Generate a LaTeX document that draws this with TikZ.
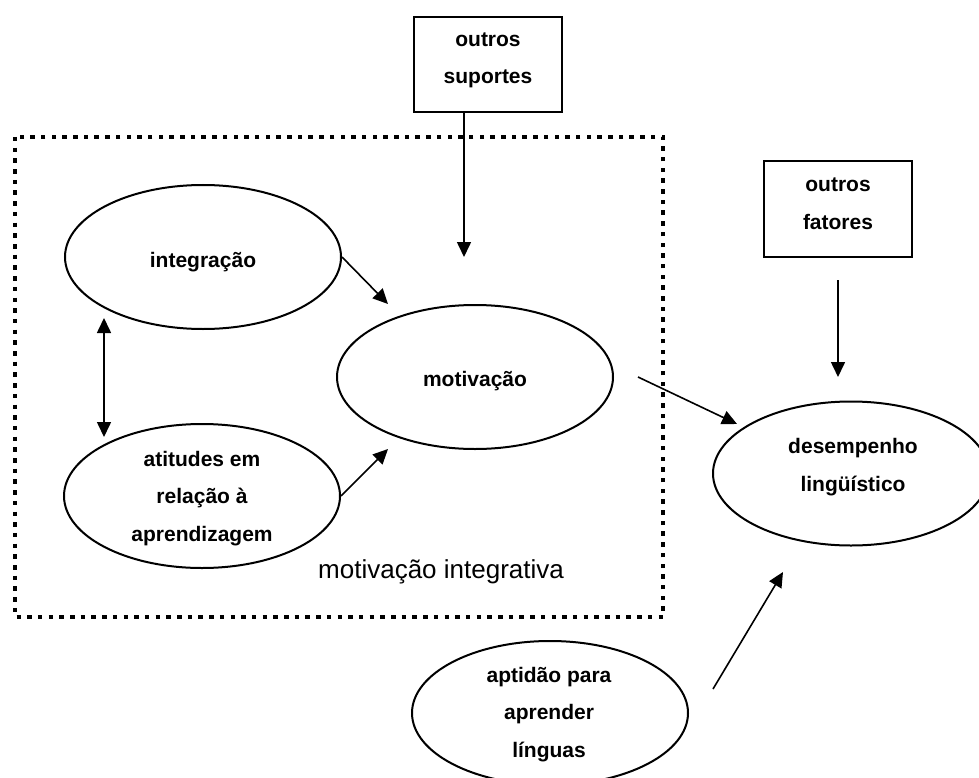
\documentclass[tikz,border=0pt]{standalone}
\usepackage{fontspec}
\setmainfont{Liberation Sans}
\usetikzlibrary{shapes.geometric,arrows.meta}
\tikzset{
  ell/.style={ellipse, draw, line width=2pt, inner sep=0pt, minimum width=276pt, minimum height=144pt},
  boxnode/.style={rectangle, draw, line width=2pt, inner sep=0pt, minimum width=148pt, minimum height=95pt},
  lbl/.style={inner sep=0pt, font=\fontsize{21}{37.5}\selectfont\bfseries, align=center},
  arr/.style={line width=1.6pt, -{Triangle[length=15pt,width=14pt]}},
  darr/.style={line width=1.6pt, {Triangle[length=15pt,width=14pt]}-{Triangle[length=15pt,width=14pt]}},
  dotbox/.style={line width=4.5pt, dash pattern=on 4.5pt off 6.2pt}
}
\begin{document}
\begin{tikzpicture}[x=1pt,y=-1pt]
\useasboundingbox (0,0) rectangle (979,778);
% dotted frame
\draw[dotbox] (15,137) rectangle (663,617);
% boxes
\node[boxnode] (sup) at (488,64.5) {};
\node[lbl, anchor=base] (tsup) at (488,84) {outros\\suportes};
\node[boxnode] (fat) at (838,209) {};
\node[lbl, anchor=base] (tfat) at (838,229) {outros\\fatores};
% ellipses
\node[ell] (int) at (203,257) {};
\node[lbl, anchor=base] (tint) at (203,267) {integração};
\node[ell] (att) at (202,496) {};
\begin{scope}
\clip (60,420) rectangle (345,545);
\node[lbl, anchor=base] (tatt) at (202,541) {atitudes em\\relação à\\aprendizagem};
\end{scope}
\node[ell] (mot) at (475,377) {};
\node[lbl, anchor=base] (tmot) at (475,386) {motivação};
\node[ell] (des) at (851,473.5) {};
\node[lbl, anchor=base] (tdes) at (853,491) {desempenho\\lingüístico};
\node[ell] (apt) at (550,713) {};
\node[lbl, anchor=base] (tapt) at (549,757) {aptidão para\\aprender\\línguas};
% caption
\node[inner sep=0pt, anchor=base west, font=\fontsize{26}{30}\selectfont] (cap) at (318,578) {motivação integrativa};
% connector end points
\coordinate (supA) at (464,112);
\coordinate (supB) at (464,257);
\coordinate (intB) at (388,304);
\coordinate (attB) at (388,449);
\coordinate (dA) at (104,318);
\coordinate (dB) at (104,437);
\coordinate (motA) at (638,377);
\coordinate (motB) at (737,424);
\coordinate (fatA) at (838,280);
\coordinate (fatB) at (838,377);
\coordinate (aptA) at (713,689);
\coordinate (aptB) at (783,572);
% connectors
\draw[arr] (supA) -- (supB);
\draw[arr] (int.east) -- (intB);
\draw[arr] (att.east) -- (attB);
\draw[darr] (dA) -- (dB);
\draw[arr] (motA) -- (motB);
\draw[arr] (fatA) -- (fatB);
\draw[arr] (aptA) -- (aptB);
\end{tikzpicture}
\end{document}
